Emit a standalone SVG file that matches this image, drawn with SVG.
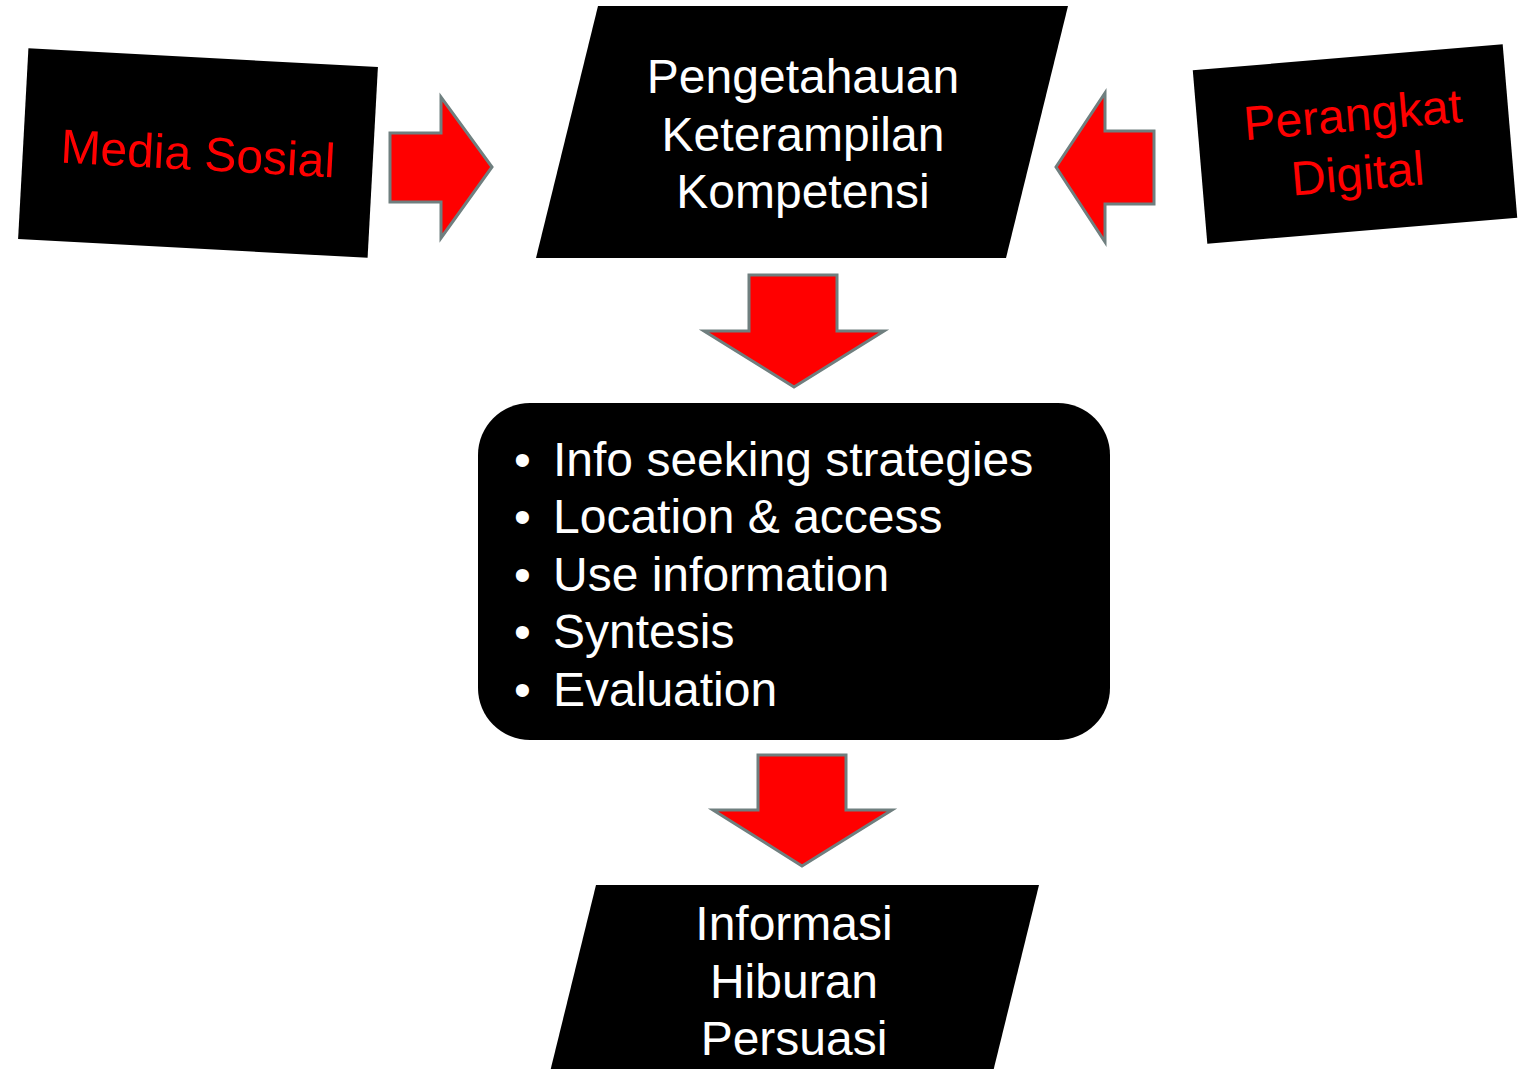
<svg xmlns="http://www.w3.org/2000/svg" width="1528" height="1069" viewBox="0 0 1528 1069">
<style>
.box{fill:#000}
.arr{fill:#ff0000;stroke:#6f7f7f;stroke-width:3;stroke-linejoin:miter}
text{font-family:"Liberation Sans",Arial,sans-serif;font-size:48px}
.w{fill:#fff}
.r{fill:#ff0000}
</style>
<rect width="1528" height="1069" fill="#fff"/>
<g id="media-sosial" transform="translate(198,153) rotate(3.1)">
<rect class="box" x="-175" y="-95.5" width="350" height="191"/>
<text class="r" x="0" y="17" text-anchor="middle">Media Sosial</text>
</g>
<g id="perangkat-digital" transform="translate(1355,144) rotate(-4.8)">
<rect class="box" x="-155.5" y="-87" width="311" height="174"/>
<text class="r" text-anchor="middle"><tspan x="0" y="-13">Perangkat</tspan><tspan x="0" y="46">Digital</tspan></text>
</g>
<g id="pengetahuan">
<polygon class="box" points="598,6 1068,6 1006,258 536,258"/>
<text class="w" text-anchor="middle"><tspan x="803" y="93">Pengetahauan</tspan><tspan x="803" y="151">Keterampilan</tspan><tspan x="803" y="208">Kompetensi</tspan></text>
</g>
<g id="skills">
<rect class="box" x="478" y="403" width="632" height="337" rx="52" ry="52"/>
<text class="w"><tspan x="514" y="476">•</tspan><tspan x="514" y="533">•</tspan><tspan x="514" y="591">•</tspan><tspan x="514" y="648">•</tspan><tspan x="514" y="706">•</tspan></text>
<text class="w"><tspan x="553" y="476">Info seeking strategies</tspan><tspan x="553" y="533">Location &amp; access</tspan><tspan x="553" y="591">Use information</tspan><tspan x="553" y="648">Syntesis</tspan><tspan x="553" y="706">Evaluation</tspan></text>
</g>
<g id="output">
<polygon class="box" points="596,885 1039,885 993,1072 550,1072"/>
<text class="w" text-anchor="middle"><tspan x="794" y="940">Informasi</tspan><tspan x="794" y="998">Hiburan</tspan><tspan x="794" y="1055">Persuasi</tspan></text>
</g>
<g id="connectors">
<polygon class="arr" points="390,133 441,133 441,97 492,167 441,238 441,202 390,202"/>
<polygon class="arr" points="1154,131 1105,131 1105,93 1056,167 1105,242 1105,204 1154,204"/>
<polygon class="arr" points="749,275 837,275 837,331 884,331 794,387 704,331 749,331"/>
<polygon class="arr" points="758,755 846,755 846,810 892,810 802,866 713,810 758,810"/>
</g>
</svg>
